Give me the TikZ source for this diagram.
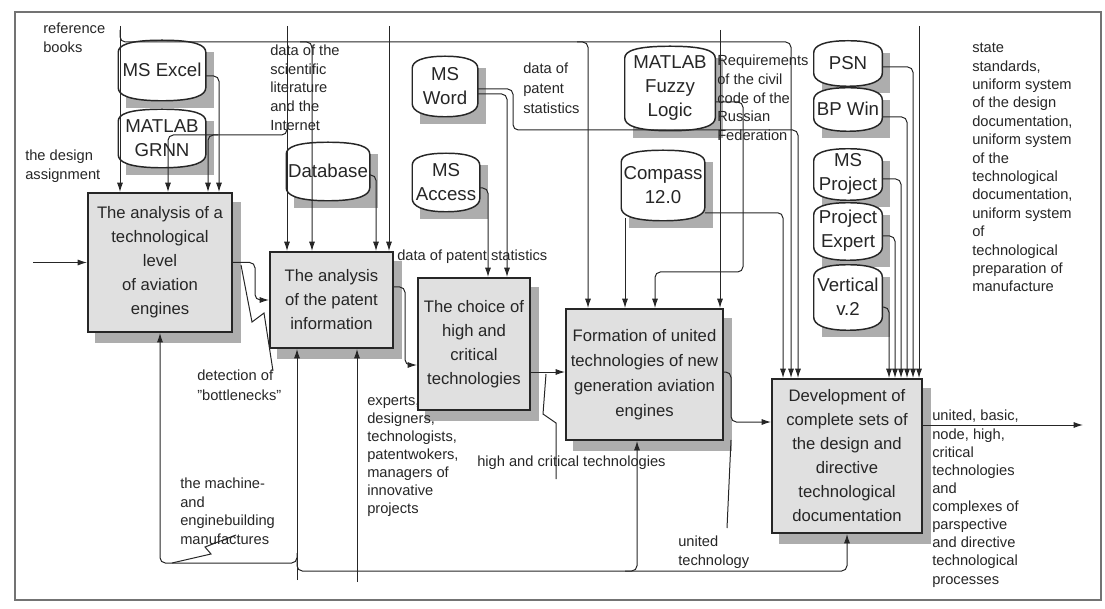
\documentclass[tikz,border=0pt]{standalone}
\usepackage{fontspec}
\setmainfont{Liberation Sans}
\usetikzlibrary{calc,arrows.meta,backgrounds}
\definecolor{ink}{gray}{0.15}
\definecolor{boxfill}{gray}{0.88}
\definecolor{shad}{gray}{0.68}
\tikzset{
  act/.style={draw=ink, line width=1.4pt, fill=boxfill, align=center, inner sep=0pt,
    font=\fontsize{12.5}{18}\selectfont, text=ink},
  dbn/.style={inner sep=0pt, align=center, font=\fontsize{14}{18}\selectfont, text=ink},
  dbline/.style={draw=ink, line width=1.1pt, fill=white},
  lab/.style={inner sep=0pt, anchor=north west, align=left, text=ink,
    font=\fontsize{11}{13.6}\selectfont},
  arr/.style={draw=ink, line width=0.75pt, rounded corners=4pt,
    -{Latex[length=7pt,width=4.5pt]}},
  ln/.style={draw=ink, line width=0.75pt},
}
\newcommand\drum[1]{%
  \begin{scope}[on background layer]
  \fill[shad] ($(#1.north west)+(8,10)$) rectangle ($(#1.south east)+(8,10)$);
  \path[dbline] ($(#1.north west)+(0,10)$)
     .. controls ($(#1.north west)+(0,3)$) and ($(#1.north west)+(10,-2)$) .. ($(#1.north)+(0,-2)$)
     .. controls ($(#1.north east)+(-10,-2)$) and ($(#1.north east)+(0,3)$) .. ($(#1.north east)+(0,10)$)
     -- ($(#1.south east)+(0,-10)$)
     .. controls ($(#1.south east)+(0,-3)$) and ($(#1.south east)+(-10,3)$) .. ($(#1.south)+(0,3)$)
     .. controls ($(#1.south west)+(10,3)$) and ($(#1.south west)+(0,-3)$) .. ($(#1.south west)+(0,-10)$)
     -- cycle;
  \end{scope}}
\newcommand\boxshadow[1]{%
  \begin{scope}[on background layer]
  \fill[shad] ($(#1.north west)+(8,10)$) rectangle ($(#1.south east)+(8,10)$);
  \end{scope}}
\begin{document}
\begin{tikzpicture}[x=0.75pt,y=-0.75pt]
\useasboundingbox (0,0) rectangle (1105,609);
\draw[black!55, line width=0.8pt] (15,12) rectangle (1101,600);

% activity boxes
\node[act, minimum width=108pt, minimum height=104.25pt] (A1) at (160,262.5)
  {The analysis of a\\technological\\level\\of aviation\\engines};
\node[act, minimum width=92.25pt, minimum height=72pt] (A2) at (331.5,300)
  {The analysis\\of the patent\\information};
\node[act, minimum width=84pt, minimum height=99pt] (A3) at (474,344)
  {The choice of\\high and\\critical\\technologies};
\node[act, minimum width=117.75pt, minimum height=98.25pt, font=\fontsize{12.5}{18.6}\selectfont] (A4) at (644.5,374.5)
  {Formation of united\\technologies of new\\generation aviation\\engines};
\node[act, minimum width=112.5pt, minimum height=115.5pt] (A5) at (847,456)
  {Development of\\complete sets of\\the design and\\directive\\technological\\documentation};
\boxshadow{A1}\boxshadow{A2}\boxshadow{A3}\boxshadow{A4}\boxshadow{A5}

% data stores
\node[dbn, minimum width=65.25pt, minimum height=41.25pt] (excel) at (162,70) {MS Excel};
\node[dbn, minimum width=65.25pt, minimum height=39.75pt] (grnn) at (162,138) {MATLAB\\GRNN};
\node[dbn, minimum width=62.25pt, minimum height=39.75pt] (db) at (328,171) {Database};
\node[dbn, minimum width=48.75pt, minimum height=41.25pt] (word) at (445,86) {MS\\Word};
\node[dbn, minimum width=50.25pt, minimum height=39.75pt] (access) at (446,182) {MS\\Access};
\node[dbn, minimum width=67.5pt, minimum height=59.25pt] (fuzzy) at (670,88) {MATLAB\\Fuzzy\\Logic};
\node[dbn, minimum width=62.25pt, minimum height=48.75pt] (compass) at (663,185) {Compass\\12.0};
\node[dbn, minimum width=51pt, minimum height=30pt] (psn) at (848,63) {PSN};
\node[dbn, minimum width=51pt, minimum height=28.5pt] (bpwin) at (848,109) {BP Win};
\node[dbn, minimum width=51pt, minimum height=34.5pt] (msproj) at (848,174) {MS\\Project};
\node[dbn, minimum width=51pt, minimum height=39pt] (pexp) at (848,231) {Project\\Expert};
\node[dbn, minimum width=51pt, minimum height=45pt] (vert) at (848,297) {Vertical\\v.2};
\drum{excel}\drum{grnn}\drum{db}\drum{word}\drum{access}\drum{fuzzy}\drum{compass}
\drum{psn}\drum{bpwin}\drum{msproj}\drum{pexp}\drum{vert}

% labels
\node[lab] (Lref) at (43,23) {reference\\books};
\node[lab] (Ldesign) at (25,150) {the design\\assignment};
\node[lab, font=\fontsize{11}{13.9}\selectfont] (Lsci) at (270,45) {data of the\\scientific\\literature\\and the\\Internet};
\node[lab, font=\fontsize{11}{15}\selectfont] (Lpat1) at (523,63) {data of\\patent\\statistics};
\node[lab, font=\fontsize{11}{14}\selectfont] (Lreq) at (717,55) {Requirements\\of the civil\\code of the\\Russian\\Federation};
\node[lab, font=\fontsize{11}{13.8}\selectfont] (Lstate) at (972,43) {state\\standards,\\uniform system\\of the design\\documentation,\\uniform system\\of the\\technological\\documentation,\\uniform system\\of\\technological\\preparation of\\manufacture};
\node[lab] (Lpat2) at (397,250) {data of patent statistics};
\node[lab, font=\fontsize{11}{15}\selectfont] (Lbottle) at (197,370) {detection of\\"bottlenecks"};
\node[lab, font=\fontsize{11}{13.5}\selectfont] (Lexp) at (367,396) {experts,\\designers,\\technologists,\\patentwokers,\\managers of\\innovative\\projects};
\node[lab] (Lhigh) at (477,456) {high and critical technologies};
\node[lab, font=\fontsize{11}{13.9}\selectfont] (Lmach) at (180,478) {the machine-\\and\\enginebuilding\\manufactures};
\node[lab] (Lunit) at (678,536) {united\\technology};
\node[lab, font=\fontsize{11}{13.6}\selectfont] (Lout) at (932,410) {united, basic,\\node, high,\\critical\\technologies\\and\\complexes of\\parspective\\and directive\\technological\\processes};

% controls: reference books
\draw[arr] (120,26) -- (120,0 |- A1.north);
\draw[arr] (120,30) |- (791,42) -- (791,0 |- A5.north);
\draw[arr] (300,42) -| (312,0 |- A2.north);
\draw[arr] (577,42) -| (588,0 |- A4.north);
% scientific literature
\draw[arr] (287,26) -- (287,0 |- A2.north);
\draw[arr] (287,124) |- (168,135) -- (168,0 |- A1.north);
\draw[arr] (218,135) -| (208,0 |- A1.north);
\draw[arr] ($(excel.east)+(0,6)$) -| (219,0 |- A1.north);
\draw[arr] (389,26) -- (389,0 |- A2.north);
\draw[arr] ($(db.east)+(0,4)$) -| (376,0 |- A2.north);
% MS Word / Access
\draw[arr] ($(word.east)+(0,3)$) -| (513,130) -| (798,0 |- A5.north);
\draw[arr] ($(word.east)+(0,8)$) -| (507,0 |- A3.north);
\draw[arr] ($(access.east)+(0,6)$) -| (488,0 |- A3.north);
% Fuzzy, requirements, Compass
\draw[arr] ($(fuzzy.east)+(0,14)$) -| (743,272) -| (655,0 |- A4.north);
\draw[arr] (720,30) -- (720,0 |- A4.north);
\draw[arr] (625,0 |- compass.south) -- (625,0 |- A4.north);
\draw[arr] ($(compass.south east)+(0,-5)$) -| (783,0 |- A5.north);
% right group
\draw[arr] ($(psn.east)+(0,4)$) -| (913,0 |- A5.north);
\draw[arr] ($(bpwin.east)+(0,8)$) -| (907,0 |- A5.north);
\draw[arr] ($(msproj.east)+(0,5)$) -| (901,0 |- A5.north);
\draw[arr] ($(pexp.east)+(0,5)$) -| (895,0 |- A5.north);
\draw[arr] ($(vert.east)+(0,10)$) -| (889,0 |- A5.north);
\draw[arr] (919,26) -- (919,0 |- A5.north);

% main flow
\draw[arr] (33,0 |- A1.west) -- (A1.west);
\draw[arr] (A1.east) -| (255,0 |- A2.west) -- (A2.west);
\draw[arr] (A2.east |- 0,287) -| (405,365) -- (A3.west |- 0,365);
\draw[arr] (A3.east |- 0,372) -- (A4.west |- 0,372);
\draw[arr] (A4.east |- 0,372) -| (731,422) -- (A5.west |- 0,422);
\draw[arr] (A5.east |- 0,425) -- (1083,425);

% mechanisms
\draw[arr] (297,580) -- (297,0 |- A2.south);
\draw[arr] (297,553) |- (160,563) -- (160,0 |- A1.south);
\draw[arr] (297,560) |- (847,571) -- (847,0 |- A5.south);
\draw[arr] (625,571) -| (637,0 |- A4.south);
\draw[arr] (357,582) -- (357,0 |- A2.south);

% label squiggles
\draw[ln] (241,265) -- (252,322) -- (264,313) -- (273,371);
\draw[ln] (546,374) -- (543,414) -- (556,423) -- (556,479);
\draw[ln] (727,528) -- (731,440);
\draw[ln] (236,535) -- (205,547) -- (211,554) -- (172,563);
\end{tikzpicture}
\end{document}
